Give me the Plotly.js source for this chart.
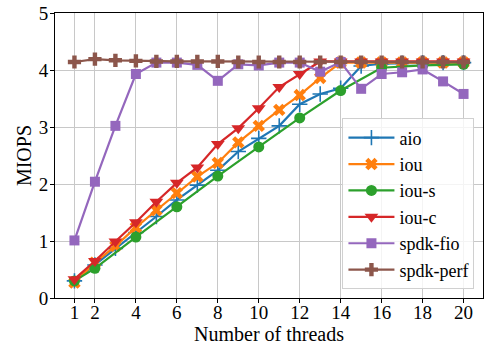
<!DOCTYPE html>
<html><head><meta charset="utf-8">
<script src="https://cdn.plot.ly/plotly-3.0.1.min.js"></script>
<style>html,body{margin:0;padding:0;background:#fff}#chart{width:485px;height:347px}</style>
</head><body><div id="chart"></div>
<script>
const threads = [1,2,3,4,5,6,7,8,9,10,11,12,13,14,15,16,17,18,19,20];
const threadsIouS = [1,2,4,6,8,10,12,14,16,18,20];
const xTicks = [1,2,4,6,8,10,12,14,16,18,20];
const aio = [0.30,0.58,0.87,1.15,1.43,1.72,1.98,2.24,2.57,2.80,3.02,3.40,3.58,3.68,4.07,4.11,4.12,4.13,4.13,4.13];
const iou = [0.27,0.62,0.91,1.24,1.54,1.84,2.13,2.37,2.73,3.02,3.30,3.56,3.86,4.13,4.13,4.13,4.13,4.13,4.13,4.13];
const iouS = [0.30,0.52,1.07,1.60,2.14,2.65,3.16,3.64,4.04,4.08,4.10];
const iouC = [0.33,0.65,0.99,1.33,1.69,2.02,2.29,2.70,2.98,3.33,3.70,3.93,4.15,4.15,4.15,4.15,4.15,4.15,4.15,4.15];
const spdkFio = [1.01,2.04,3.02,3.93,4.13,4.13,4.09,3.81,4.10,4.08,4.13,4.13,3.97,4.14,3.67,3.93,3.96,4.01,3.80,3.58];
const spdkPerf = [4.14,4.19,4.17,4.16,4.15,4.15,4.15,4.15,4.14,4.14,4.14,4.14,4.14,4.14,4.14,4.14,4.14,4.14,4.14,4.14];

function tr(name, x, y, color, symbol, size, lw) {
  return {
    type: 'scatter', mode: 'lines+markers', name: name, x: x, y: y,
    line: {color: color, width: 2.2},
    marker: {color: color, symbol: symbol, size: size, line: {color: color, width: lw || 0}}
  };
}
const data = [
  tr('aio', threads, aio, '#1f77b4', 'cross-thin', 11, 1.6),
  tr('iou', threads, iou, '#ff7f0e', 'x', 11),
  tr('iou-s', threadsIouS, iouS, '#2ca02c', 'circle', 11),
  tr('iou-c', threads, iouC, '#d62728', 'triangle-down', 12),
  tr('spdk-fio', threads, spdkFio, '#9467bd', 'square', 10),
  tr('spdk-perf', threads, spdkPerf, '#8c564b', 'cross', 11)
];
const fam = '"Liberation Serif", "DejaVu Serif", serif';
const tickFont = {family: fam, size: 19, color: '#000'};
const xTickFont = {family: fam, size: 19, color: '#000'};
const titleFont = {family: fam, size: 20, color: '#000'};
const legendFont = {family: fam, size: 18, color: '#000'};
const layout = {
  width: 485, height: 347,
  margin: {l: 55, r: 2, t: 13, b: 49},
  paper_bgcolor: '#fff', plot_bgcolor: '#fff',
  font: tickFont,
  showlegend: true,
  legend: {x: 0.98, y: 0.03, xanchor: 'right', yanchor: 'bottom',
    bgcolor: 'rgba(255,255,255,0.8)', bordercolor: '#d0d0d0', borderwidth: 1,
    font: legendFont, tracegroupgap: 0, itemwidth: 46},
  xaxis: {
    range: [0.05, 20.95], tickvals: xTicks, ticktext: xTicks.map(String),
    showgrid: true, gridcolor: '#c8c8c8', gridwidth: 1,
    showline: true, linecolor: '#000', linewidth: 1, mirror: true,
    ticks: 'outside', ticklen: 4, tickcolor: '#000', zeroline: false,
    ticklabelstandoff: -7,
    title: {text: 'Number of threads', font: titleFont, standoff: 4},
    tickfont: xTickFont
  },
  yaxis: {
    range: [0, 5], dtick: 1, tick0: 0,
    showgrid: true, gridcolor: '#c8c8c8', gridwidth: 1,
    showline: true, linecolor: '#000', linewidth: 1, mirror: true,
    ticks: 'outside', ticklen: 4, tickcolor: '#000', zeroline: false,
    ticklabelstandoff: -2,
    title: {text: 'MIOPS', font: titleFont, standoff: 1},
    tickfont: tickFont
  }
};
Plotly.newPlot('chart', data, layout, {displayModeBar: false, staticPlot: true});
</script></body></html>
